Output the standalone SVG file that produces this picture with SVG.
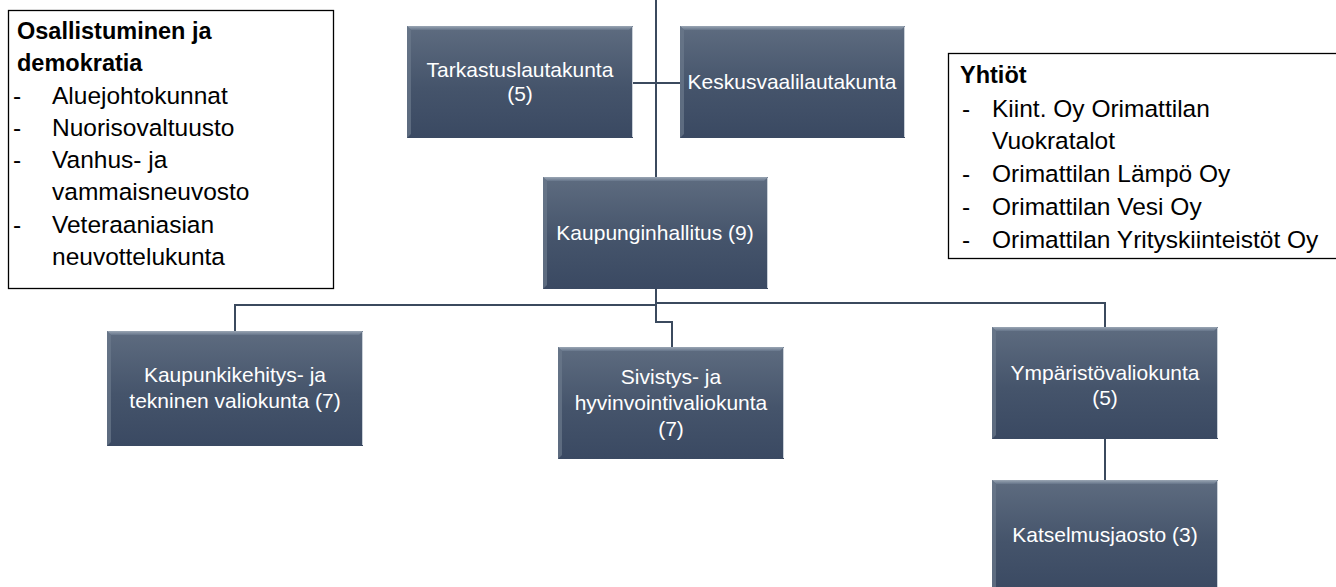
<svg xmlns="http://www.w3.org/2000/svg" width="1336" height="587" viewBox="0 0 1336 587">
<defs>
<linearGradient id="boxg" x1="0" y1="0" x2="0" y2="1">
<stop offset="0" stop-color="#5e6c80"/>
<stop offset="0.55" stop-color="#45546b"/>
<stop offset="1" stop-color="#3a4962"/>
</linearGradient>
<linearGradient id="topbev" x1="0" y1="0" x2="0" y2="1">
<stop offset="0" stop-color="#9aa6b4"/>
<stop offset="1" stop-color="#66758a"/>
</linearGradient>
</defs>
<style>
.box{fill:url(#boxg);}
.bev{fill:url(#topbev);}
.lbev{fill:#6b798c;opacity:0.7;}
.redge{stroke:#c9d0d8;stroke-width:1;}
.bt{font-family:"Liberation Sans",Arial,sans-serif;font-size:21px;fill:#ffffff;text-anchor:middle;}
.conn{fill:none;stroke:#3b4a5e;stroke-width:2;}
.panel{fill:#ffffff;stroke:#000000;stroke-width:1.3;}
.pt{font-family:"Liberation Sans",Arial,sans-serif;font-size:24.5px;fill:#000000;}
.ph{font-weight:bold;font-size:23.5px;}
</style>
<rect width="1336" height="587" fill="#ffffff"/>

<g id="connectors">
<path class="conn" d="M656,0 V177"/>
<path class="conn" d="M633,83 H680"/>
<path class="conn" d="M656,289 V305 H235 V331"/>
<path class="conn" d="M656,303 H1105 V327"/>
<path class="conn" d="M656,305 V322 H672 V347"/>
<path class="conn" d="M1105,439 V480"/>
</g>

<g id="osallistuminen">
<rect class="panel" x="8.5" y="10.5" width="325" height="278"/>
<text class="pt ph" x="17" y="39">Osallistuminen ja</text>
<text class="pt ph" x="17" y="71">demokratia</text>
<text class="pt" x="13" y="104">-</text><text class="pt" x="52" y="104">Aluejohtokunnat</text>
<text class="pt" x="13" y="136">-</text><text class="pt" x="52" y="136">Nuorisovaltuusto</text>
<text class="pt" x="13" y="168">-</text><text class="pt" x="52" y="168">Vanhus- ja</text>
<text class="pt" x="52" y="200">vammaisneuvosto</text>
<text class="pt" x="13" y="233">-</text><text class="pt" x="52" y="233">Veteraaniasian</text>
<text class="pt" x="52" y="265">neuvottelukunta</text>
</g>

<g id="yhtiot">
<rect class="panel" x="948.5" y="53.5" width="395" height="205"/>
<text class="pt ph" x="960" y="83">Yhtiöt</text>
<text class="pt" x="962" y="117">-</text><text class="pt" x="992" y="117">Kiint. Oy Orimattilan</text>
<text class="pt" x="992" y="149">Vuokratalot</text>
<text class="pt" x="962" y="182">-</text><text class="pt" x="992" y="182">Orimattilan Lämpö Oy</text>
<text class="pt" x="962" y="215">-</text><text class="pt" x="992" y="215">Orimattilan Vesi Oy</text>
<text class="pt" x="962" y="248">-</text><text class="pt" x="992" y="248">Orimattilan Yrityskiinteistöt Oy</text>
</g>

<g id="tarkastuslautakunta">
<rect class="box" x="407" y="26" width="226" height="112"/>
<polygon class="bev" points="407,26 633,26 629,30 411,30"/>
<polygon class="lbev" points="407,26 411,30 411,134 407,138"/>
<line class="redge" x1="632.5" y1="27" x2="632.5" y2="137"/>
<text class="bt" x="520" y="77">Tarkastuslautakunta</text>
<text class="bt" x="520" y="101">(5)</text>
</g>

<g id="keskusvaalilautakunta">
<rect class="box" x="680" y="26" width="225" height="112"/>
<polygon class="bev" points="680,26 905,26 901,30 684,30"/>
<polygon class="lbev" points="680,26 684,30 684,134 680,138"/>
<line class="redge" x1="904.5" y1="27" x2="904.5" y2="137"/>
<text class="bt" x="792" y="89">Keskusvaalilautakunta</text>
</g>

<g id="kaupunginhallitus">
<rect class="box" x="543" y="177" width="225" height="112"/>
<polygon class="bev" points="543,177 768,177 764,181 547,181"/>
<polygon class="lbev" points="543,177 547,181 547,285 543,289"/>
<line class="redge" x1="767.5" y1="178" x2="767.5" y2="288"/>
<text class="bt" x="655" y="240">Kaupunginhallitus (9)</text>
</g>

<g id="kaupunkikehitys">
<rect class="box" x="107" y="331" width="256" height="115"/>
<polygon class="bev" points="107,331 363,331 359,335 111,335"/>
<polygon class="lbev" points="107,331 111,335 111,442 107,446"/>
<line class="redge" x1="362.5" y1="332" x2="362.5" y2="445"/>
<text class="bt" x="235" y="382">Kaupunkikehitys- ja</text>
<text class="bt" x="235" y="408">tekninen valiokunta (7)</text>
</g>

<g id="sivistys">
<rect class="box" x="558" y="347" width="226" height="112"/>
<polygon class="bev" points="558,347 784,347 780,351 562,351"/>
<polygon class="lbev" points="558,347 562,351 562,455 558,459"/>
<line class="redge" x1="783.5" y1="348" x2="783.5" y2="458"/>
<text class="bt" x="671" y="384">Sivistys- ja</text>
<text class="bt" x="671" y="410">hyvinvointivaliokunta</text>
<text class="bt" x="671" y="436">(7)</text>
</g>

<g id="ymparisto">
<rect class="box" x="992" y="327" width="226" height="112"/>
<polygon class="bev" points="992,327 1218,327 1214,331 996,331"/>
<polygon class="lbev" points="992,327 996,331 996,435 992,439"/>
<line class="redge" x1="1217.5" y1="328" x2="1217.5" y2="438"/>
<text class="bt" x="1105" y="380">Ympäristövaliokunta</text>
<text class="bt" x="1105" y="405">(5)</text>
</g>

<g id="katselmusjaosto">
<rect class="box" x="992" y="480" width="226" height="112"/>
<polygon class="bev" points="992,480 1218,480 1214,484 996,484"/>
<polygon class="lbev" points="992,480 996,484 996,592 992,592"/>
<line class="redge" x1="1217.5" y1="481" x2="1217.5" y2="592"/>
<text class="bt" x="1105" y="542">Katselmusjaosto (3)</text>
</g>
</svg>
